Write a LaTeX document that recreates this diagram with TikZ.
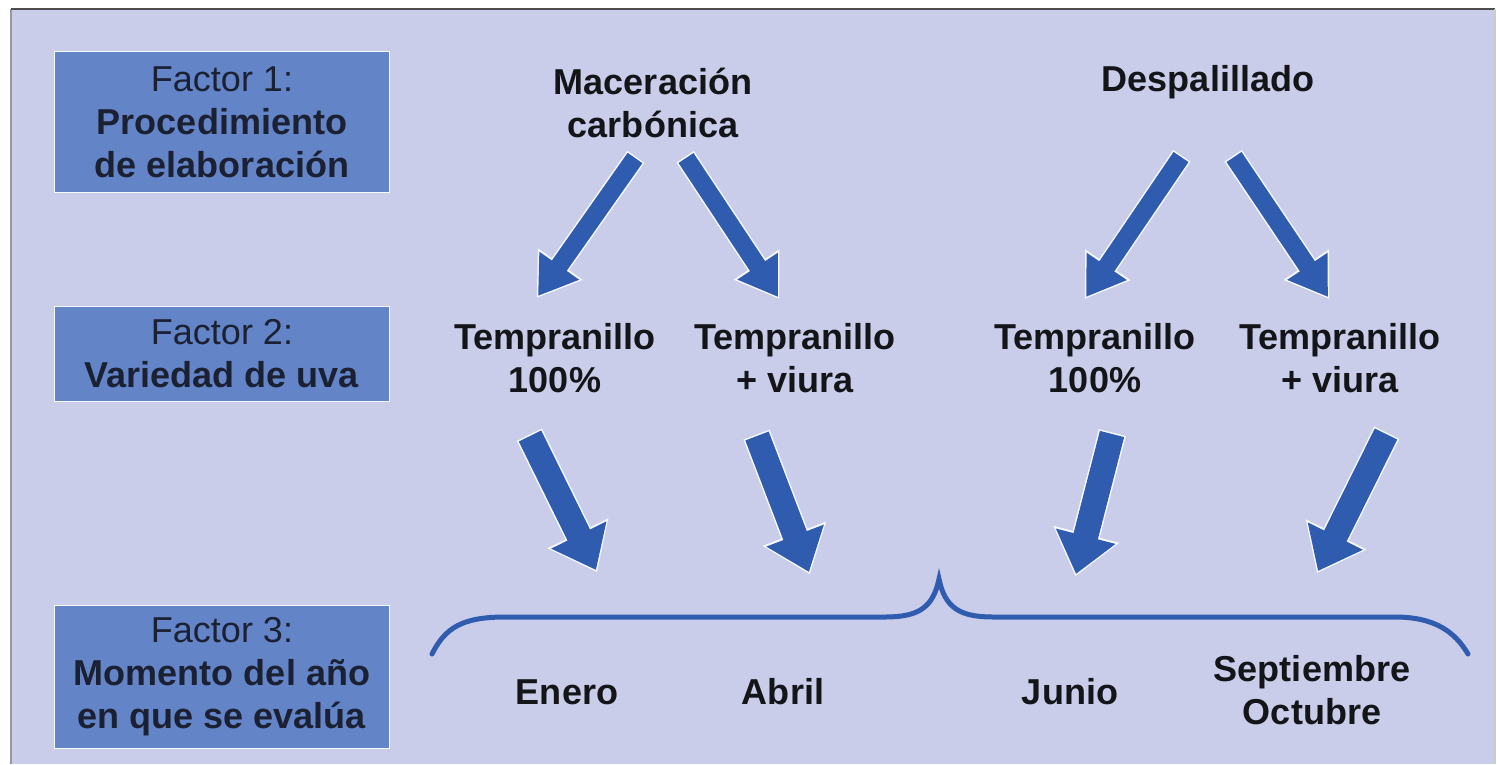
\documentclass[tikz,border=0pt]{standalone}
\usepackage{fontspec}
\setmainfont{Liberation Sans}
\usepackage[HTML]{xcolor}
\usepackage{tikz}
\usetikzlibrary{positioning, arrows.meta}

\definecolor{fondo}{HTML}{C9CDEA}
\definecolor{caja}{HTML}{6384C6}
\definecolor{flecha}{HTML}{2F5CAF}
\definecolor{tinta}{HTML}{141518}
\definecolor{tintacaja}{HTML}{1B2133}

\begin{document}
\begin{tikzpicture}[
    x=0.02cm, y=-0.02cm, % one unit is one pixel of the scan, y grows downwards
    every node/.style={inner sep=0pt, align=center, font=\fontsize{20.5}{24.5}\selectfont},
    factorbox/.style={draw=white!85!fondo, line width=0.9pt, fill=caja, text=tintacaja, minimum width=6.7cm},
    label/.style={text=tinta, font=\fontsize{20.5}{24.5}\selectfont\bfseries},
    % thin arrows of the first row
    arrowA/.style={draw=flecha, line width=0.36cm, -{Triangle[width=0.92cm, length=0.74cm]},
        preaction={draw=white!85!fondo, line width=0.42cm, shorten >=-0.05cm, shorten <=-0.03cm,
            -{Triangle[width=1.04cm, length=0.83cm]}}},
    % fat arrows of the second row
    arrowB/.style={draw=flecha, line width=0.5cm, -{Triangle[width=1.18cm, length=0.78cm]},
        preaction={draw=white!85!fondo, line width=0.56cm, shorten >=-0.05cm, shorten <=-0.03cm,
            -{Triangle[width=1.3cm, length=0.87cm]}}},
    brace/.style={draw=flecha, line width=0.1cm, line cap=round}
]
    \useasboundingbox (0,0) rectangle (1497,764);

    % 0. Paper and frame
    \fill[white] (0,0) rectangle (1497,764);
    \fill[fondo] (11,9) rectangle (1495,764);
    \draw[gray!80, line width=1.2pt] (11,764) -- (11,9);
    \draw[black!70, line width=1.2pt] (11,9) -- (1495,9);
    \draw[gray!40, line width=1pt] (1495,9) -- (1495,764);

    % 1. Factor boxes on the left
    \node[factorbox, minimum height=2.82cm] (f1) at (222,122)
        {Factor 1:\\\textbf{Procedimiento}\\\textbf{de elaboración}};
    \node[factorbox, minimum height=1.9cm] (f2) at (222,354)
        {Factor 2:\\\textbf{Variedad de uva}};
    \node[factorbox, minimum height=2.86cm] (f3) at (222,677)
        {Factor 3:\\\textbf{Momento del año}\\\textbf{en que se evalúa}};

    % 2. Procedures
    \node[label] (mac) at (653,103) {Maceración\\carbónica};
    \node[label] (desp) at (1208,82) {Despalillado};

    % 3. Grape varieties
    \node[label] (t1) at (555,358) {Tempranillo\\100\%};
    \node[label] (t2) at (795,358) {Tempranillo\\+ viura};
    \node[label] (t3) at (1095,358) {Tempranillo\\100\%};
    \node[label] (t4) at (1340,358) {Tempranillo\\+ viura};

    % 4. Months
    \node[label] (ene) at (567,692) {Enero};
    \node[label] (abr) at (783,692) {Abril};
    \node[label] (jun) at (1070,692) {Junio};
    \node[label] (sep) at (1312,690) {Septiembre\\Octubre};

    % 5. Arrow ends
    \coordinate (a1s) at (635,158);  \coordinate (a1e) at (538,296);
    \coordinate (a2s) at (686,158);  \coordinate (a2e) at (778,297);
    \coordinate (a3s) at (1181,157); \coordinate (a3e) at (1086,297);
    \coordinate (a4s) at (1234,157); \coordinate (a4e) at (1328,297);
    \coordinate (b1s) at (530,436);  \coordinate (b1e) at (596,570);
    \coordinate (b2s) at (757,436);  \coordinate (b2e) at (809,572);
    \coordinate (b3s) at (1112,434); \coordinate (b3e) at (1076,574);
    \coordinate (b4s) at (1386,434); \coordinate (b4e) at (1318,571);

    % 6. Draw the arrows
    \foreach \i in {1,...,4} {
        \draw[arrowA] (a\i s) -- (a\i e);
        \draw[arrowB] (b\i s) -- (b\i e);
    }

    % 7. Brace over the months
    \draw[brace] (432,654) .. controls (445,628) and (462,617) .. (505,617)
        -- (885,617) .. controls (918,617) and (933,608) .. (939,579)
        .. controls (945,608) and (960,617) .. (993,617)
        -- (1395,617) .. controls (1435,617) and (1455,632) .. (1468,654);

\end{tikzpicture}
\end{document}
